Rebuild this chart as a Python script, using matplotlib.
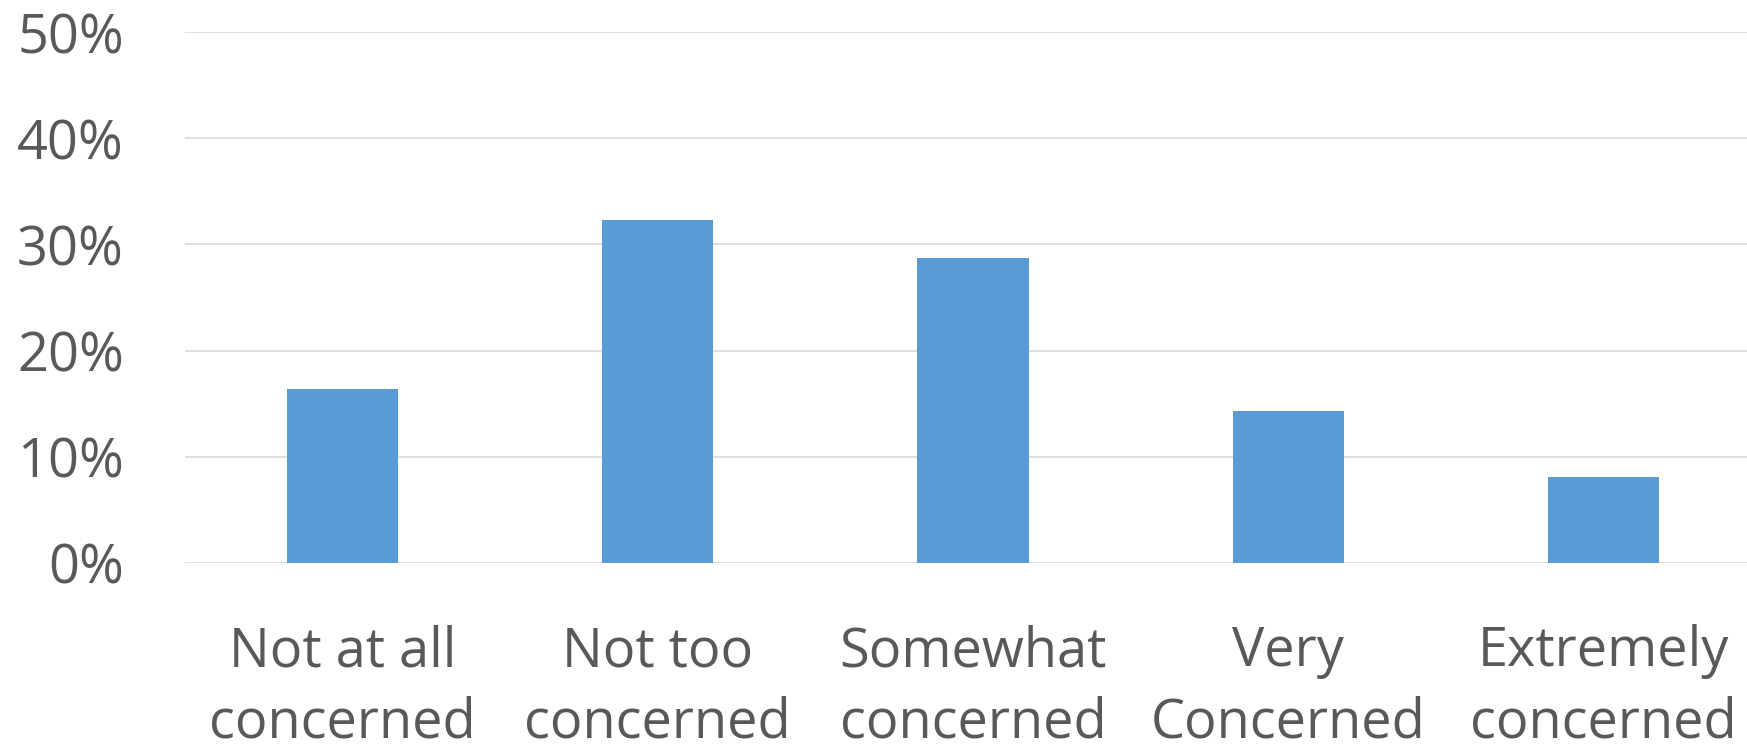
import matplotlib
matplotlib.use("Agg")
import matplotlib.pyplot as plt
from matplotlib.ticker import FuncFormatter

categories = ["Not at all\nconcerned", "Not too\nconcerned", "Somewhat\nconcerned",
              "Very\nConcerned", "Extremely\nconcerned"]
values = [16.4, 32.3, 28.7, 14.3, 8.1]
yticks = [0, 10, 20, 30, 40, 50]

plt.rcParams['font.family'] = ['Open Sans', 'DejaVu Sans']

fig = plt.figure(figsize=(17.47, 7.46), dpi=100)
ax = fig.add_axes([185/1747, 183/746, 1576/1747, 531/746])

x = list(range(len(categories)))
ax.bar(x, values, width=0.353, color="#5B9BD5", zorder=3)

ax.set_xlim(-0.5, len(categories) - 0.5)
ax.set_ylim(0, 50)
ax.set_yticks(yticks)
ax.yaxis.set_major_formatter(FuncFormatter(lambda v, p: f"{int(v)}%"))
ax.set_xticks(x)
ax.set_xticklabels(categories, linespacing=1.38)

ax.grid(axis="y", color="#D9D9D9", linewidth=1.2, zorder=0)
ax.set_axisbelow(True)
for s in ax.spines.values():
    s.set_visible(False)

ax.tick_params(axis="y", length=0, pad=44, labelsize=39, labelcolor="#595959")
ax.tick_params(axis="x", length=0, pad=44, labelsize=39, labelcolor="#595959")

fig.savefig("out.png", dpi=100)
